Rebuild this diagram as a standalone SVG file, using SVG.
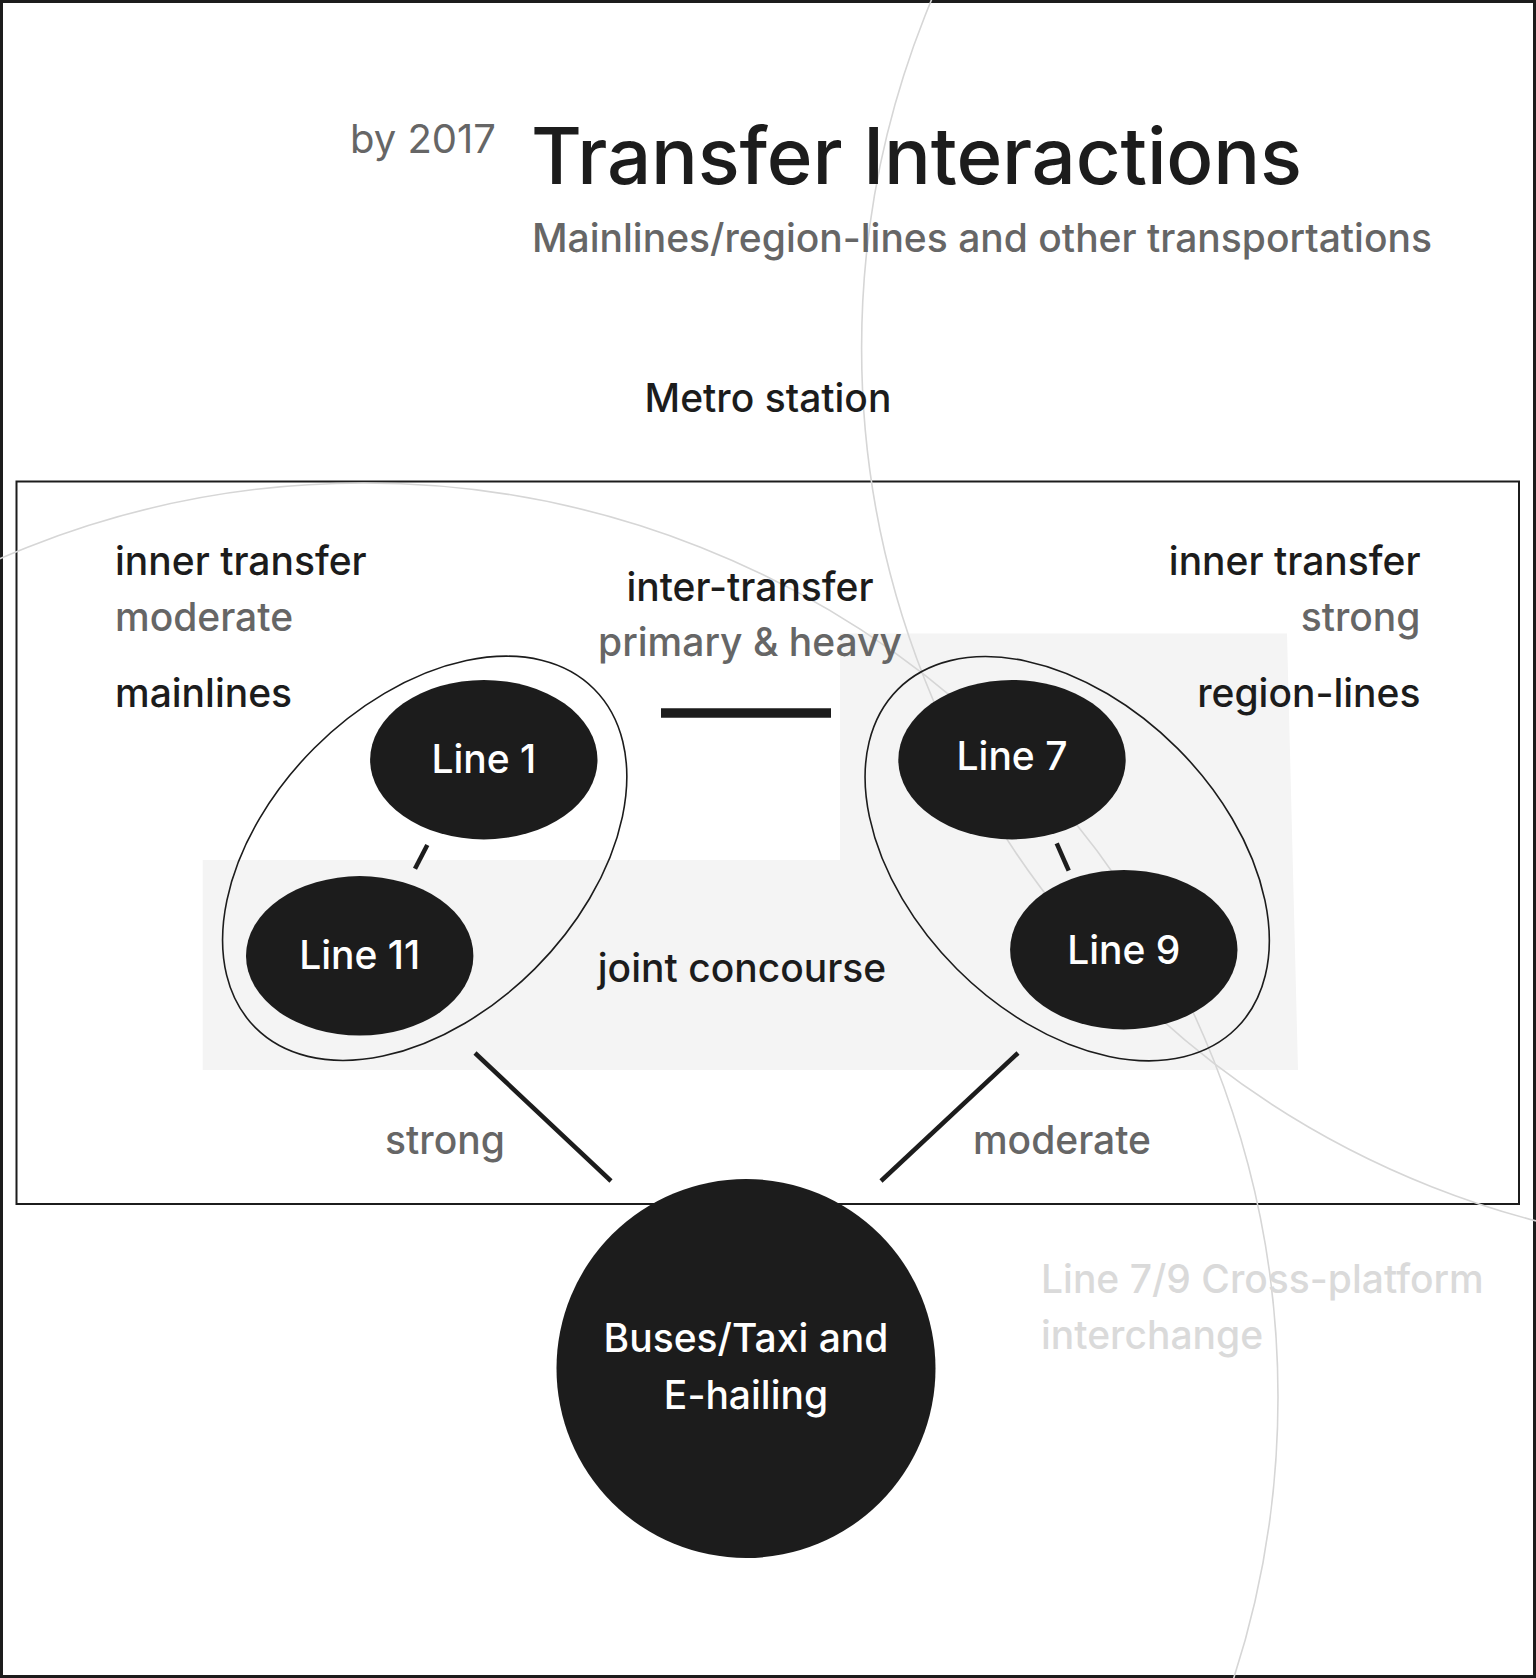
<svg xmlns="http://www.w3.org/2000/svg" width="1536" height="1678" viewBox="0 0 1536 1678">
<style>
text{font-family:Inter,"Noto Sans","Liberation Sans",sans-serif;font-weight:500;}
.lbl{font-size:39px;fill:#1c1c1c;}
.gry{font-size:39px;fill:#666666;}
.wht{font-size:39px;fill:#ffffff;}
.faint{font-size:39px;fill:#dadada;}
.mid{text-anchor:middle;}
.end{text-anchor:end;}
.deco{fill:none;stroke:#d6d6d6;stroke-width:1.6;}
.node{fill:#1c1c1c;}
.ring{fill:none;stroke:#1c1c1c;stroke-width:1.6;}
.conn{stroke:#1c1c1c;stroke-width:4.5;fill:none;}
</style>
<rect x="0" y="0" width="1536" height="1678" fill="#ffffff"/>
<rect x="1.5" y="1.5" width="1533" height="1675" fill="none" stroke="#1c1c1c" stroke-width="3"/>
<rect id="station" x="16.5" y="481.5" width="1502.5" height="722.5" fill="none" stroke="#1c1c1c" stroke-width="2"/>
<polygon id="concourse-area" points="202.7,860 840,860 840,633.5 1287,633.5 1298,1070 202.7,1070" fill="#f4f4f4"/>
<g id="decor">
<circle class="deco" cx="1763.6" cy="348" r="902"/>
<circle class="deco" cx="364" cy="1397" r="914"/>
</g>
<g id="header">
<text x="350" y="153" class="gry" style="font-weight:400;font-size:40px">by 2017</text>
<text x="531" y="184" style="font-size:78px;fill:#1c1c1c;letter-spacing:-0.2px">Transfer Interactions</text>
<text x="532" y="251.5" class="gry">Mainlines/region-lines and other transportations</text>
<text x="768" y="412" class="lbl mid">Metro station</text>
</g>
<g id="labels">
<text x="115" y="574.5" class="lbl">inner transfer</text>
<text x="115" y="631" class="gry">moderate</text>
<text x="115" y="707" class="lbl">mainlines</text>
<text x="1420.5" y="574.5" class="lbl end">inner transfer</text>
<text x="1420.5" y="631" class="gry end">strong</text>
<text x="1420.5" y="707" class="lbl end">region-lines</text>
<text x="750" y="601" class="lbl mid">inter-transfer</text>
<text x="750" y="655.5" class="gry mid">primary &amp; heavy</text>
<text x="742" y="981.5" class="lbl mid">joint concourse</text>
<text x="445" y="1153.5" class="gry mid">strong</text>
<text x="1062" y="1153.5" class="gry mid">moderate</text>
<text x="1041" y="1292.5" class="faint">Line 7/9 Cross-platform</text>
<text x="1041" y="1348.5" class="faint">interchange</text>
</g>
<g id="connectors">
<line class="conn" x1="661" y1="713" x2="831" y2="713" style="stroke-width:9.4"/>
<line class="conn" x1="427.3" y1="845" x2="415" y2="868.7"/>
<line class="conn" x1="1056.7" y1="843.3" x2="1068.7" y2="870.7"/>
<line class="conn" x1="475" y1="1053" x2="611" y2="1181"/>
<line class="conn" x1="1018" y1="1053" x2="881" y2="1181"/>
</g>
<g id="mainlines-group">
<ellipse class="ring" cx="424.7" cy="858.3" rx="239.5" ry="156" transform="rotate(-45 424.7 858.3)"/>
</g>
<g id="regionlines-group">
<ellipse class="ring" cx="1067.2" cy="858.7" rx="239.5" ry="156" transform="rotate(45 1067.2 858.7)"/>
</g>
<g id="line1">
<ellipse class="node" cx="483.8" cy="759.7" rx="113.7" ry="79.7"/>
<text x="483.8" y="772.5" class="wht mid">Line 1</text>
</g>
<g id="line11">
<ellipse class="node" cx="359.7" cy="955.8" rx="113.7" ry="79.7"/>
<text x="359.7" y="968.5" class="wht mid">Line 11</text>
</g>
<g id="line7">
<ellipse class="node" cx="1012" cy="759.7" rx="113.7" ry="79.7"/>
<text x="1012" y="770" class="wht mid">Line 7</text>
</g>
<g id="line9">
<ellipse class="node" cx="1123.8" cy="949.7" rx="113.7" ry="79.7"/>
<text x="1123.8" y="963.5" class="wht mid">Line 9</text>
</g>
<g id="buses">
<circle class="node" cx="746" cy="1368.5" r="189.5"/>
<text x="746" y="1352" class="wht mid">Buses/Taxi and</text>
<text x="746" y="1408.5" class="wht mid">E-hailing</text>
</g>
</svg>
